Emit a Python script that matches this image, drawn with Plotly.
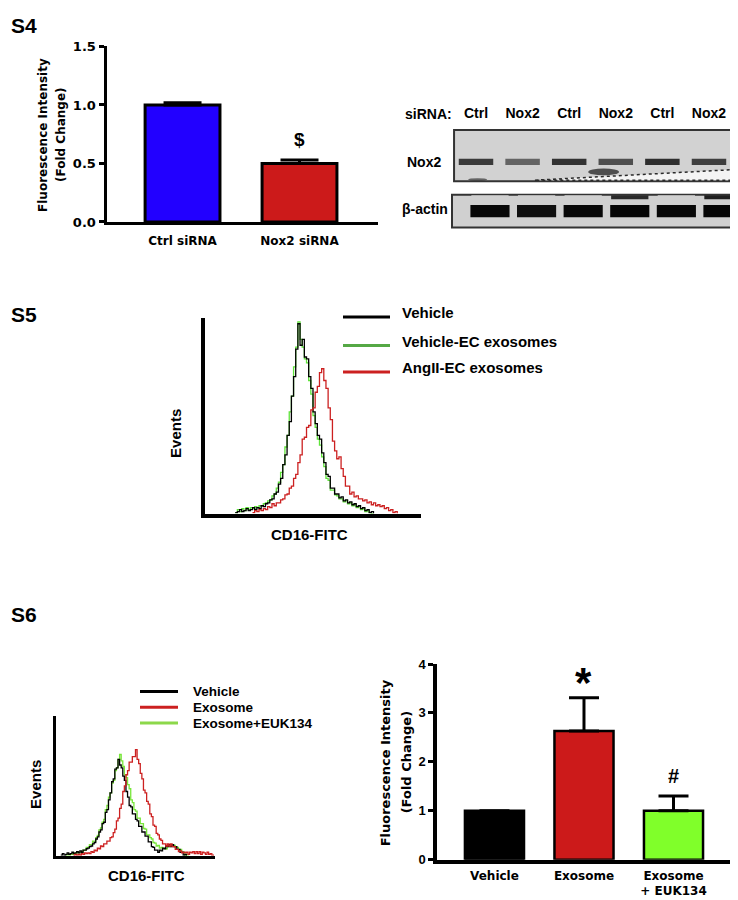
import plotly.graph_objects as go

W, H = 738, 900
ARIAL = "Liberation Sans, Arial, sans-serif"
PRISM = "DejaVu Sans, Verdana, sans-serif"

# ---------------- S4: bar chart ----------------
s4_groups = ["Ctrl siRNA", "Nox2 siRNA"]
s4_values = [1.00, 0.50]
s4_errors = [0.02, 0.03]
s4_colors = ["#2200ff", "#cc1a1a"]
s4_tickvals = [0, 0.5, 1.0, 1.5]
s4_ticktext = ["0.0", "0.5", "1.0", "1.5"]

# ---------------- S4: western blot (band darkness 0..1) ----------------
blot_lanes = ["Ctrl", "Nox2", "Ctrl", "Nox2", "Ctrl", "Nox2"]
nox2_band = [0.72, 0.52, 0.76, 0.62, 0.78, 0.70]
actin_band = [0.96, 0.93, 0.96, 0.97, 0.96, 0.97]
actin_upper_band = [0.0, 0.0, 0.0, 0.80, 0.0, 0.85]

# ---------------- S5: flow histograms (counts per channel) ----------------
s5_names = ["Vehicle", "Vehicle-EC exosomes", "AngII-EC exosomes"]
s5_vehicle_start = 14
s5_vehicle = [0.5, 1, 2, 1, 1.5, 2.5, 1.5, 2, 3, 2, 3, 2.5, 4, 3.5, 5, 5.5, 7, 7.5, 10, 11,
              15, 18, 25, 30, 40, 47, 60, 70, 84, 97, 86, 89, 80, 79, 70, 64, 52, 46, 40, 38,
              31, 26, 20, 19, 13, 13, 10, 10, 8, 8.5, 6.5, 7, 5.5, 6, 4.5, 5, 3.5, 4, 2.5, 3,
              1.5, 2, 0.5, 1, 0]
s5_vehicle_ec_start = 14
s5_vehicle_ec = [0.5, 2, 1, 2.5, 1.5, 3, 2, 3, 2.5, 3.5, 3, 4, 4, 5, 5.5, 6.5, 7, 9, 10, 13,
                 16, 21, 25, 34, 40, 52, 60, 75, 85, 98, 89, 85, 79, 77, 68, 61, 50, 44, 38, 35,
                 29, 24, 18, 17, 12, 12, 9.5, 9, 7.5, 7.5, 6, 6.5, 5, 5.5, 4, 4.5, 3, 3.5, 2, 2.5,
                 1, 1.5, 0.5, 0, 0]
s5_angii_start = 22
s5_angii = [0.5, 1.5, 1, 2, 1.5, 2.5, 2, 3.5, 3, 5, 4, 5.5, 5.5, 7, 7.5, 9.5, 10, 13, 14, 18,
            20, 26, 30, 38, 39, 44, 45, 53, 54, 62, 65, 72, 74, 68, 64, 54, 48, 37, 32, 28,
            29, 23, 19, 14, 14, 10, 11, 8.5, 9, 7.5, 7.5, 6.5, 7, 5.5, 6, 4.5, 5.5, 4, 4.5, 3.5,
            4, 2.5, 3, 1.5, 2, 0.5, 1, 0]

# ---------------- S6: flow histograms ----------------
s6_names = ["Vehicle", "Exosome", "Exosome+EUK134"]
s6_vehicle_start = 3
s6_vehicle = [0.5, 1.5, 0.5, 1, 2, 1, 1.5, 2.5, 1.5, 2, 3, 2, 3.5, 2.5, 4, 4, 5, 5.5, 6.5, 7,
              8.5, 9.5, 12, 13.5, 17, 18.5, 23, 24, 31, 33, 40, 45, 53, 55, 62, 63, 69, 65, 63, 57,
              54, 46, 42, 36, 35, 30, 30, 26, 25, 21, 21, 17, 17, 14, 14, 10, 10, 6.5, 6, 4,
              4, 2.5, 4, 3.5, 5.5, 5, 7, 6.5, 8, 6.5, 8, 6.5, 6.5, 4.5, 4.5, 2.5, 2.5, 0.5, 1, 0]
s6_exosome_start = 11
s6_exosome = [0.5, 1, 0.5, 1, 0.5, 1.5, 1, 2, 1.5, 2, 1.5, 3, 2.5, 4, 3.5, 5.5, 5, 7, 6.5, 8.5,
              8.5, 10.5, 10.5, 13, 13.5, 16.5, 19, 25, 27, 34, 37, 46, 50, 58, 61, 67, 67, 71, 71, 76,
              69, 66, 59, 55, 47, 45, 39, 37, 30, 28, 22, 21, 16, 15, 12, 11, 8.5, 8.5, 7, 8.5,
              7, 8.5, 6.5, 6.5, 4.5, 4.5, 3, 3.5, 2, 2.5, 2, 2.5, 1, 2.5, 2, 3, 1.5, 3, 1.5, 3,
              1, 2.5, 2, 1, 2.5, 1, 1.5, 0.5, 0]
s6_euk_start = 6
s6_euk = [0.5, 1, 0.5, 1.5, 1, 2, 1.5, 2.5, 2, 3, 2.5, 4, 4, 6, 6, 8, 8, 10.5, 10.5, 13,
          14.5, 18.5, 20, 24, 26, 33, 36, 42, 45, 52, 54, 61, 63, 69, 72.5, 68, 64, 58, 56, 51,
          48, 40, 38, 33, 32, 27, 27, 23, 23, 19.5, 19, 15, 15, 13, 12, 9.5, 9, 7, 7.5, 5.5,
          6, 5, 5.5, 5, 6.5, 6.5, 8, 7, 7.5, 6, 6, 4.5, 4.5, 2.5, 2.5, 0.5, 1, 0]

# ---------------- S6: bar chart ----------------
s6_groups = ["Vehicle", "Exosome", "Exosome<br>+ EUK134"]
s6_values = [1.00, 2.63, 1.00]
s6_errors = [0.00, 0.68, 0.30]
s6_colors = ["#000000", "#cc1a1a", "#80ff2a"]
s6_tickvals = [0, 1, 2, 3, 4]


def px(x):
    return x / W


def py(y):
    return 1 - y / H


def channels(start, counts):
    return [start + i for i in range(len(counts))]


def gray(v, bg=208):
    g = int(round(bg * (1 - v)))
    return f"rgb({g},{g},{g})"


fig = go.Figure()

# S4 bars
fig.add_trace(go.Bar(
    x=list(range(len(s4_groups))), y=s4_values, width=0.64,
    marker=dict(color=s4_colors, line=dict(color="black", width=3)),
    error_y=dict(type="data", symmetric=False, array=s4_errors,
                 arrayminus=[0] * len(s4_errors), color="black", thickness=3, width=19),
    xaxis="x", yaxis="y", hoverinfo="skip"))

# Blot bands
lanes = list(range(len(blot_lanes)))
fig.add_trace(go.Bar(
    x=lanes, y=[6.5] * len(lanes), base=[64] * len(lanes), width=0.74,
    marker=dict(color=[gray(v) for v in nox2_band], line=dict(width=0)),
    xaxis="x2", yaxis="y2", hoverinfo="skip"))
fig.add_trace(go.Bar(
    x=[l + 0.3 for l in lanes], y=[12.5] * len(lanes), base=[10.5] * len(lanes), width=0.84,
    marker=dict(color=[gray(v) for v in actin_band], line=dict(width=0)),
    xaxis="x2", yaxis="y2", hoverinfo="skip"))
fig.add_trace(go.Bar(
    x=[l + 0.3 for l in lanes], y=[4] * len(lanes), base=[29] * len(lanes), width=0.8,
    marker=dict(color=[gray(v) for v in actin_upper_band], line=dict(width=0)),
    xaxis="x2", yaxis="y2", hoverinfo="skip"))

# S5 histograms
S5_COL = {"Vehicle": "#000000", "Vehicle-EC exosomes": "#5fe33a", "AngII-EC exosomes": "#cc2020"}
for name, start, counts in [("Vehicle-EC exosomes", s5_vehicle_ec_start, s5_vehicle_ec),
                            ("Vehicle", s5_vehicle_start, s5_vehicle),
                            ("AngII-EC exosomes", s5_angii_start, s5_angii)]:
    fig.add_trace(go.Scatter(x=channels(start, counts), y=counts, mode="lines", name=name,
                             line=dict(color=S5_COL[name], width=1.3, shape="hv"),
                             xaxis="x3", yaxis="y3", hoverinfo="skip"))

# S6 histograms
S6_COL = {"Vehicle": "#000000", "Exosome": "#cc2020", "Exosome+EUK134": "#78e63a"}
for name, start, counts in [("Exosome+EUK134", s6_euk_start, s6_euk),
                            ("Vehicle", s6_vehicle_start, s6_vehicle),
                            ("Exosome", s6_exosome_start, s6_exosome)]:
    fig.add_trace(go.Scatter(x=channels(start, counts), y=counts, mode="lines", name=name,
                             line=dict(color=S6_COL[name], width=1.3, shape="hv"),
                             xaxis="x4", yaxis="y4", hoverinfo="skip"))

# S6 bars
fig.add_trace(go.Bar(
    x=list(range(len(s6_groups))), y=s6_values, width=0.66,
    marker=dict(color=s6_colors, line=dict(color="black", width=2.5)),
    error_y=dict(type="data", symmetric=False, array=s6_errors,
                 arrayminus=[0] * len(s6_errors), color="black", thickness=3, width=15),
    xaxis="x5", yaxis="y5", hoverinfo="skip"))

BOLD = "bold"
noax = dict(showgrid=False, zeroline=False)

layout = dict(
    width=W, height=H, margin=dict(l=0, r=0, t=0, b=0),
    paper_bgcolor="white", plot_bgcolor="rgba(0,0,0,0)",
    showlegend=False, barmode="overlay",
    # S4 bars
    xaxis=dict(domain=[px(98.5), px(370)], range=[-0.65, 1.671], anchor="y",
               showline=True, linewidth=3, linecolor="black", ticks="",
               tickvals=list(range(len(s4_groups))), ticktext=s4_groups,
               tickfont=dict(family=PRISM, size=12, color="black", weight=BOLD),
               ticklabelstandoff=6, **noax),
    yaxis=dict(domain=[py(210.5), py(32)], range=[0, 1.5], anchor="x",
               showline=True, linewidth=3, linecolor="black", ticks="outside",
               ticklen=5, tickwidth=3, tickcolor="black",
               tickvals=s4_tickvals, ticktext=s4_ticktext,
               tickfont=dict(family=PRISM, size=13, color="black", weight=BOLD), **noax),
    # Blot
    xaxis2=dict(domain=[px(444), px(737)], range=[-0.515, 5.773], anchor="y2", side="top",
                showline=False, ticks="", tickvals=lanes, ticktext=blot_lanes,
                tickfont=dict(family=ARIAL, size=14, color="black", weight=BOLD),
                ticklabelstandoff=8, **noax),
    yaxis2=dict(domain=[py(216), py(117)], range=[0, 100], anchor="x2", visible=False, **noax),
    # S5 histogram
    xaxis3=dict(domain=[px(197), px(413)], range=[0, 100], anchor="y3", showline=True,
                linewidth=4, linecolor="black", ticks="", showticklabels=False, **noax),
    yaxis3=dict(domain=[py(507), py(308)], range=[0, 100], anchor="x3", showline=True,
                linewidth=4, linecolor="black", ticks="", showticklabels=False, **noax),
    # S6 histogram
    xaxis4=dict(domain=[px(48), px(207)], range=[0, 100], anchor="y4", showline=True,
                linewidth=2.5, linecolor="black", ticks="", showticklabels=False, **noax),
    yaxis4=dict(domain=[py(855), py(713)], range=[0, 100], anchor="x4", showline=True,
                linewidth=2.5, linecolor="black", ticks="", showticklabels=False, **noax),
    # S6 bars
    xaxis5=dict(domain=[px(429), px(727)], range=[-0.642, 2.687], anchor="y5",
                showline=True, linewidth=3.5, linecolor="black", ticks="",
                tickvals=list(range(len(s6_groups))), ticktext=s6_groups,
                tickfont=dict(family=PRISM, size=12, color="black", weight=BOLD),
                ticklabelstandoff=2, **noax),
    yaxis5=dict(domain=[py(859), py(660)], range=[0, 4], anchor="x5",
                showline=True, linewidth=3.5, linecolor="black", ticks="outside",
                ticklen=5, tickwidth=3, tickcolor="black", tickvals=s6_tickvals,
                tickfont=dict(family=ARIAL, size=13, color="black", weight=BOLD), **noax),
)
fig.update_layout(**layout)


def ann(text, x, y, size, family=ARIAL, angle=0, xanchor="center", yanchor="middle"):
    return dict(text=text, x=px(x), y=py(y), xref="paper", yref="paper", showarrow=False,
                font=dict(family=family, size=size, color="black", weight=BOLD),
                textangle=angle, xanchor=xanchor, yanchor=yanchor)


annotations = [
    ann("S4", 1, 11, 21, xanchor="left"),
    ann("S5", 1, 305, 21, xanchor="left"),
    ann("S6", 1, 610, 21, xanchor="left"),
    # S4 y title
    ann("Fluorescence Intensity", 35, 122, 12, family=PRISM, angle=-90),
    ann("(Fold Change)", 53, 122, 12, family=PRISM, angle=-90),
    # blot labels
    ann("siRNA:", 395, 101, 14, xanchor="left"),
    ann("Nox2", 416, 149, 14),
    ann("\u03b2-actin", 417, 197, 14),
    # S5 labels
    ann("Events", 168, 426, 15, angle=-90),
    ann("CD16-FITC", 301, 528, 15),
    # S6 hist labels
    ann("Events", 28, 783, 15, angle=-90),
    ann("CD16-FITC", 138, 875, 15),
    # S6 bar y title
    ann("Fluorescence Intensity", 377, 760, 13, family=PRISM, angle=-90),
    ann("(Fold Change)", 398, 760, 13, family=PRISM, angle=-90),
]

# significance marks
annotations.append(dict(text="$", x=1, y=s4_values[1] + s4_errors[1], xref="x", yref="y",
                        showarrow=False, yanchor="bottom", yshift=8,
                        font=dict(family=ARIAL, size=19, color="black", weight=BOLD)))
annotations.append(dict(text="*", x=1, y=s6_values[1] + s6_errors[1], xref="x5", yref="y5",
                        showarrow=False, yanchor="bottom", yshift=-10,
                        font=dict(family=ARIAL, size=42, color="black", weight=BOLD)))
annotations.append(dict(text="#", x=2, y=s6_values[2] + s6_errors[2], xref="x5", yref="y5",
                        showarrow=False, yanchor="bottom", yshift=7,
                        font=dict(family=ARIAL, size=20, color="black", weight=BOLD)))

shapes = []
# legends (drawn as in the source figure)
for name, ly, ty in zip(s5_names, [307, 336, 363], [303, 332, 358]):
    col = {"Vehicle": "#000000", "Vehicle-EC exosomes": "#55a845",
           "AngII-EC exosomes": "#cc2020"}[name]
    shapes.append(dict(type="line", xref="paper", yref="paper", x0=px(335), x1=px(382),
                       y0=py(ly), y1=py(ly), line=dict(color=col, width=3)))
    annotations.append(ann(name, 392, ty, 15, xanchor="left"))
for name, ly in zip(s6_names, [688, 704, 720]):
    col = {"Vehicle": "#000000", "Exosome": "#cc2020", "Exosome+EUK134": "#8cd84a"}[name]
    shapes.append(dict(type="line", xref="paper", yref="paper", x0=px(132), x1=px(170),
                       y0=py(ly), y1=py(ly), line=dict(color=col, width=3)))
    annotations.append(ann(name, 183, ly, 13.5, xanchor="left"))

# blot membranes
shapes += [
    dict(type="rect", xref="x2 domain", yref="y2 domain", x0=0.007, x1=0.993, y0=0.475, y1=1.0,
         fillcolor="#d2d2d2", line=dict(color="#333333", width=2), layer="below"),
    dict(type="rect", xref="x2 domain", yref="y2 domain", x0=0.0, x1=1.0, y0=0.0, y1=0.335,
         fillcolor="#d0d0d0", line=dict(color="#333333", width=2), layer="below"),
    dict(type="path", xref="x2 domain", yref="y2 domain",
         path="M0.283,0.485 L0.988,0.598 L0.988,0.485 Z",
         fillcolor="#f4f4f4", line=dict(color="#2a2a2a", width=1.5, dash="dot"), layer="below"),
    dict(type="circle", xref="x2 domain", yref="y2 domain", x0=0.465, x1=0.57, y0=0.535,
         y1=0.605, fillcolor="#222222", opacity=0.75, line=dict(width=0), layer="below"),
    dict(type="circle", xref="x2 domain", yref="y2 domain", x0=0.055, x1=0.12, y0=0.478,
         y1=0.505, fillcolor="#333333", opacity=0.7, line=dict(width=0), layer="below"),
]

fig.update_layout(annotations=annotations, shapes=shapes)
fig.write_html("out.html")
